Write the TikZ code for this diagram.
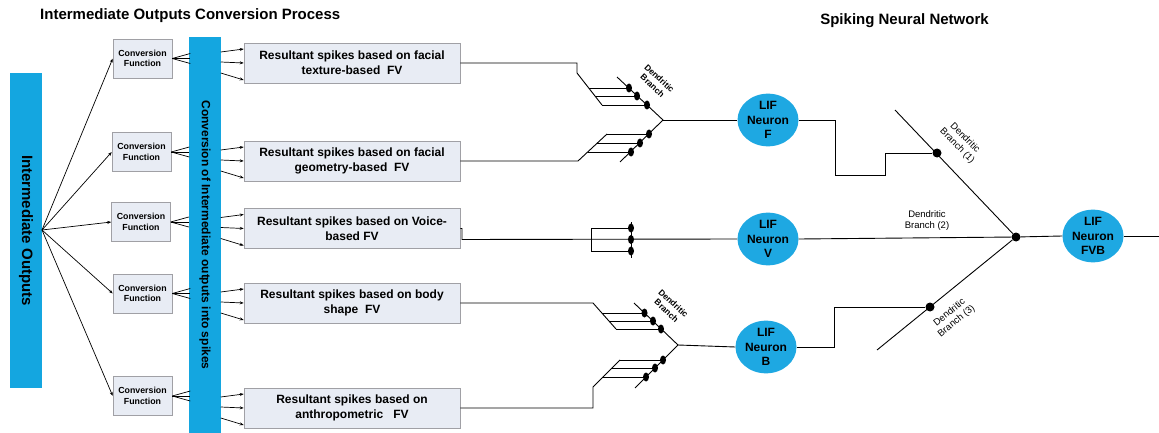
\documentclass[tikz,border=0pt]{standalone}
\usepackage{fontspec}
\setmainfont{Liberation Sans}
\usetikzlibrary{arrows.meta,shapes.geometric}
\definecolor{barblue}{RGB}{20,166,224}
\definecolor{neuronblue}{RGB}{30,168,226}
\definecolor{boxfill}{RGB}{232,236,244}
\definecolor{boxline}{RGB}{160,160,165}
\begin{document}
\begin{tikzpicture}[x=1pt,y=-1pt,
  wire/.style={line width=0.9pt},
  thinwire/.style={line width=0.7pt},
  arr/.style={line width=0.7pt,-{Stealth[length=4pt,width=3pt]}},
  bar/.style={fill=barblue,draw=none,inner sep=0pt,font=\bfseries},
  cfbox/.style={fill=boxfill,draw=boxline,line width=0.5pt,minimum width=59pt,minimum height=39pt,inner sep=0pt,align=center,font=\fontsize{8.8}{10.5}\selectfont\bfseries},
  rsbox/.style={fill=boxfill,draw=boxline,line width=0.5pt,minimum width=216pt,minimum height=40pt,inner sep=0pt,align=center,font=\fontsize{12}{15}\selectfont\bfseries},
  lif/.style={ellipse,fill=neuronblue,draw=none,minimum width=61pt,minimum height=49pt,inner sep=0pt,align=center,font=\fontsize{12}{14.5}\selectfont\bfseries},
  syn/.style={ellipse,fill=black,minimum width=6pt,minimum height=9pt,inner sep=0pt},
  soma/.style={circle,fill=black,minimum size=9pt,inner sep=0pt},
  dlabel/.style={font=\fontsize{8.5}{10}\selectfont\bfseries,align=center,inner sep=0pt},
  blabel/.style={font=\fontsize{9.5}{11}\selectfont,align=center,inner sep=0pt},
  title/.style={font=\fontsize{15}{18}\selectfont\bfseries,inner sep=0pt}
]
\useasboundingbox[fill=white] (0,0) rectangle (1159,433);

% headings
\node[title,anchor=west] (t1) at (40,16) {Intermediate Outputs Conversion Process};
\node[title] (t2) at (904.5,21) {Spiking Neural Network};

% vertical bars
\node[bar,rotate=-90,minimum width=315pt,minimum height=32pt,font=\fontsize{15}{18}\selectfont\bfseries] (io) at (26,230.5) {Intermediate Outputs};
\node[bar,rotate=-90,minimum width=396pt,minimum height=32pt,font=\fontsize{12}{14}\selectfont\bfseries] (conv) at (205,235) {Conversion of Intermediate outputs into spikes};
\coordinate (fan) at (42,230);

% conversion functions
\node[cfbox] (cf1) at (142.5,58.5) {Conversion\\Function};
\node[cfbox] (cf2) at (141.5,152) {Conversion\\Function};
\node[cfbox] (cf3) at (141,222) {Conversion\\Function};
\node[cfbox] (cf4) at (142.5,293.5) {Conversion\\Function};
\node[cfbox] (cf5) at (142.5,396) {Conversion\\Function};

% resultant spike boxes
\node[rsbox] (rs1) at (352,63) {Resultant spikes based on facial\\texture-based\ \ FV};
\node[rsbox] (rs2) at (352,161) {Resultant spikes based on facial\\geometry-based\ \ FV};
\node[rsbox] (rs3) at (352,228.5) {Resultant spikes based on Voice-\\based FV};
\node[rsbox] (rs4) at (352,303) {Resultant spikes based on body\\shape\ \ FV};
\node[rsbox] (rs5) at (352,408) {Resultant spikes based on\\anthropometric\ \ \ FV};

% fan-out from intermediate outputs
\foreach \i in {1,...,5} \draw[arr] (fan) -- (cf\i.west);
% conversion function outputs into the bar
\foreach \i in {1,...,5} \foreach \d in {-5,0,5} \draw[thinwire] (cf\i.east) -- ++(18,\d);
% spikes from the bar into the boxes
\foreach \i in {1,...,5} {
  \draw[arr] ([shift={(-23,-11)}]rs\i.west) -- ([shift={(0,-14)}]rs\i.west);
  \draw[arr] ([shift={(-23,-1)}]rs\i.west) -- ([shift={(0,0)}]rs\i.west);
  \draw[arr] ([shift={(-23,10)}]rs\i.west) -- ([shift={(0,17)}]rs\i.west);
}

% LIF neurons
\node[lif] (nF) at (768,120) {LIF\\Neuron\\F};
\node[lif] (nV) at (768,239) {LIF\\Neuron\\V};
\node[lif] (nB) at (766,347) {LIF\\Neuron\\B};
\node[lif] (nFVB) at (1093,236) {LIF\\Neuron\\FVB};

% dendritic tree of neuron F
\coordinate (jA) at (663,120);
\coordinate (dA1) at (617,77);
\coordinate (dA2) at (620,162);
\draw[wire] (rs1.east) -- (577,63) -- (577,73) -- (602,105);
\draw[wire] (rs2.east) -- (578,161) -- (607,134);
\draw[wire] (dA1) -- (jA) -- (dA2);
\node[syn] (a1) at (629,88) {};
\node[syn] (a2) at (637,96) {};
\node[syn] (a3) at (647,105) {};
\node[syn] (a4) at (649,134) {};
\node[syn] (a5) at (640,143) {};
\node[syn] (a6) at (631,152) {};
\draw[wire] (589,88) -- (a1.center);
\draw[wire] (595,96) -- (a2.center);
\draw[wire] (602,105) -- (a3.center);
\draw[wire] (607,134) -- (a4.center);
\draw[wire] (597,143) -- (a5.center);
\draw[wire] (588,152) -- (a6.center);
\draw[wire] (jA) -- (nF.west);
\node[dlabel,rotate=-43] (lA) at (656,82) {Dendritic\\Branch};

% dendritic tree of neuron V
\node[syn] (v1) at (631,228) {};
\node[syn] (v2) at (631,239.5) {};
\node[syn] (v3) at (631,251) {};
\draw[wire] (rs3.east) -- (462,228.5) -- (462,239.5) -- (nV.west);
\draw[wire] (591,228) -- (591,251);
\draw[wire] (591,228) -- (v1.center);
\draw[wire] (591,251) -- (v3.center);
\draw[wire] (631,222) -- (631,258);

% dendritic tree of neuron B
\coordinate (jB) at (678,345);
\coordinate (dB1) at (634,303);
\coordinate (dB2) at (635,388);
\draw[wire] (rs4.east) -- (593,303) -- (616,329);
\draw[wire] (rs5.east) -- (593,408) -- (593,387) -- (620,360);
\draw[wire] (dB1) -- (jB) -- (dB2);
\node[syn] (b1) at (644.5,313) {};
\node[syn] (b2) at (653,321) {};
\node[syn] (b3) at (661,329) {};
\node[syn] (b4) at (663,360) {};
\node[syn] (b5) at (655,368) {};
\node[syn] (b6) at (646,377) {};
\draw[wire] (602,313) -- (b1.center);
\draw[wire] (610,321) -- (b2.center);
\draw[wire] (616,329) -- (b3.center);
\draw[wire] (620,360) -- (b4.center);
\draw[wire] (612,368) -- (b5.center);
\draw[wire] (603,377) -- (b6.center);
\draw[wire] (jB) -- (nB.west);
\node[dlabel,rotate=-43] (lB) at (670,307) {Dendritic\\Branch};

% dendritic tree of neuron FVB
\node[soma] (J) at (1016,237) {};
\node[soma] (d1) at (937,153) {};
\node[soma] (d3) at (930,307) {};
\coordinate (br1) at (895,110);
\coordinate (br3) at (877,350);
\coordinate (out) at (1159,236);
\draw[wire] (br1) -- (J);
\draw[wire] (br3) -- (J);
\draw[wire] (nF.east) -- (835,120) -- (835,175) -- (885,175) -- (885,153) -- (d1);
\draw[wire] (nB.east) -- (834,347) -- (834,307) -- (d3);
\draw[wire] (nV.east) -- (J);
\draw[wire] (J) -- (nFVB.west);
\draw[wire] (nFVB.east) -- (out);
\node[blabel,rotate=-45] (l1) at (961,142) {Dendritic\\Branch (1)};
\node[blabel] (l2) at (927,221) {Dendritic\\Branch (2)};
\node[blabel,rotate=39] (l3) at (953,317) {Dendritic\\Branch (3)};
\end{tikzpicture}
\end{document}
